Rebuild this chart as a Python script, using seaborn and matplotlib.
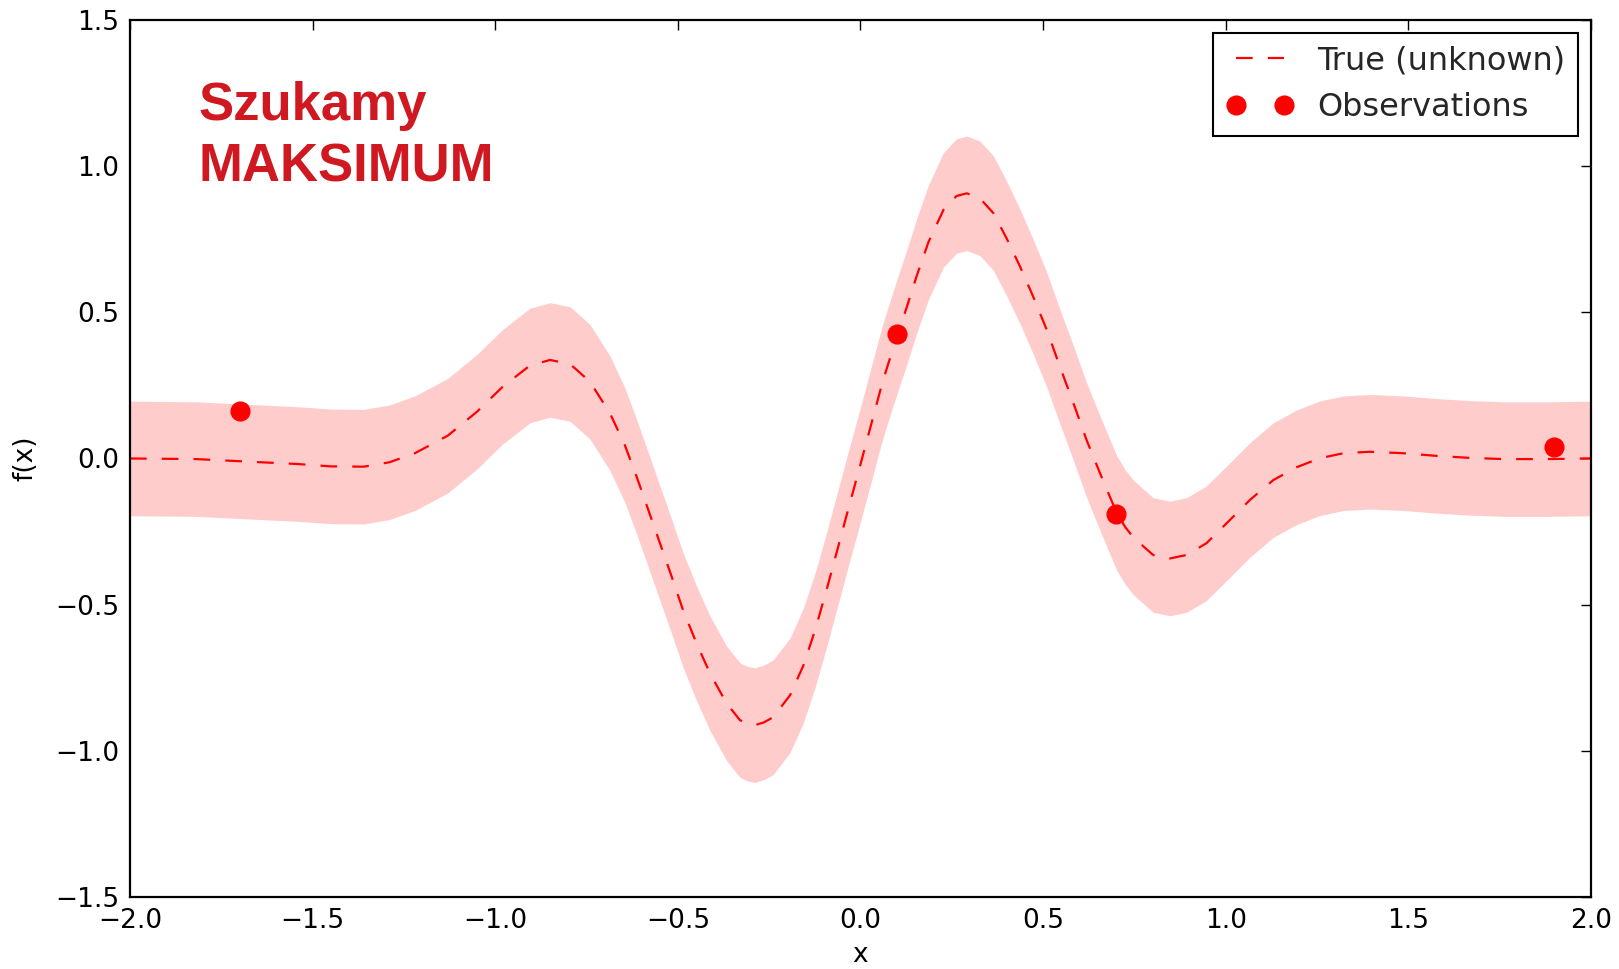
import numpy as np
import matplotlib
matplotlib.use("Agg")
import matplotlib.pyplot as plt
import seaborn as sns

# "True (unknown)" curve
true_x = [-2.00, -1.82, -1.64, -1.54, -1.45, -1.36, -1.29, -1.22, -1.13, -1.05,
          -0.98, -0.905, -0.85, -0.795, -0.741, -0.686, -0.645, -0.613, -0.581, -0.549,
          -0.517, -0.486, -0.449, -0.412, -0.367, -0.330, -0.310, -0.289, -0.265, -0.239,
          -0.193, -0.157, -0.125, -0.093, -0.065, -0.035, 0.000, 0.030, 0.060, 0.085,
          0.102, 0.126, 0.154, 0.186, 0.227, 0.263, 0.291, 0.327, 0.364, 0.400,
          0.437, 0.473, 0.510, 0.546, 0.583, 0.619, 0.656, 0.701, 0.725, 0.747,
          0.801, 0.847, 0.893, 0.947, 1.002, 1.066, 1.130, 1.194, 1.258, 1.322,
          1.395, 1.486, 1.577, 1.669, 1.760, 1.880, 2.000]
true_y = [0.000, -0.002, -0.013, -0.019, -0.027, -0.028, -0.013, 0.018, 0.078, 0.160,
          0.245, 0.318, 0.337, 0.323, 0.263, 0.155, 0.045, -0.062, -0.176, -0.290,
          -0.404, -0.518, -0.632, -0.735, -0.837, -0.895, -0.907, -0.912, -0.903, -0.885,
          -0.810, -0.710, -0.590, -0.450, -0.320, -0.180, -0.020, 0.120, 0.260, 0.360,
          0.425, 0.515, 0.625, 0.740, 0.850, 0.898, 0.907, 0.890, 0.839, 0.753,
          0.656, 0.553, 0.440, 0.314, 0.189, 0.063, -0.051, -0.185, -0.235, -0.270,
          -0.330, -0.342, -0.330, -0.290, -0.222, -0.142, -0.074, -0.030, 0.001, 0.018,
          0.023, 0.018, 0.009, 0.002, -0.002, -0.002, 0.000]
band_half = 0.196  # half width of the shaded band

obs_x = [-1.70, 0.10, 0.70, 1.90]
obs_y = [0.162, 0.425, -0.190, 0.038]

x_ticks = [-2.0, -1.5, -1.0, -0.5, 0.0, 0.5, 1.0, 1.5, 2.0]
y_ticks = [-1.5, -1.0, -0.5, 0.0, 0.5, 1.0, 1.5]

sns.set_theme(style="white")
plt.rcParams["font.family"] = ["DejaVu Sans"]

fig, ax = plt.subplots(figsize=(16.19, 9.69), dpi=100)
fig.subplots_adjust(left=0.0803, right=0.9827, bottom=0.0743, top=0.9794)

ty = np.array(true_y)
ax.fill_between(true_x, ty - band_half, ty + band_half,
                color="red", alpha=0.2, linewidth=0)
sns.lineplot(x=true_x, y=true_y, ax=ax, color="red", linewidth=1.6,
             linestyle=(0, (7.5, 6.8)), label="True (unknown)", sort=False)
sns.lineplot(x=obs_x, y=obs_y, ax=ax, color="red", marker="o", linestyle="",
             markersize=13.5, markeredgecolor="red", markeredgewidth=1,
             label="Observations")

ax.set_xlim(-2, 2)
ax.set_ylim(-1.5, 1.5)
ax.set_xticks(x_ticks)
ax.set_yticks(y_ticks)
ax.tick_params(direction="in", length=7.5, width=1, top=True, right=True,
               labelsize=19, colors="black", pad=8)
for sp in ax.spines.values():
    sp.set_color("black")
    sp.set_linewidth(1.6)

ax.set_xlabel("x", fontsize=19, labelpad=6, color="black")
ax.set_ylabel("f(x)", fontsize=19, labelpad=12, color="black")

ax.text(0.047, 0.886, "Szukamy", transform=ax.transAxes, fontsize=38,
        fontweight="bold", family="Liberation Sans", color="#cf1820", va="baseline")
ax.text(0.047, 0.816, "MAKSIMUM", transform=ax.transAxes, fontsize=38,
        fontweight="bold", family="Liberation Sans", color="#cf1820", va="baseline")

leg = ax.legend(loc="upper right", numpoints=2, fontsize=23, frameon=True,
                fancybox=False, shadow=False, borderpad=0.4, labelspacing=0.5,
                handlelength=2.1, handletextpad=0.75, borderaxespad=0.4)
leg.get_frame().set_edgecolor("black")
leg.get_frame().set_linewidth(1.5)
leg.get_frame().set_alpha(1)

fig.savefig("out.png", dpi=100)
